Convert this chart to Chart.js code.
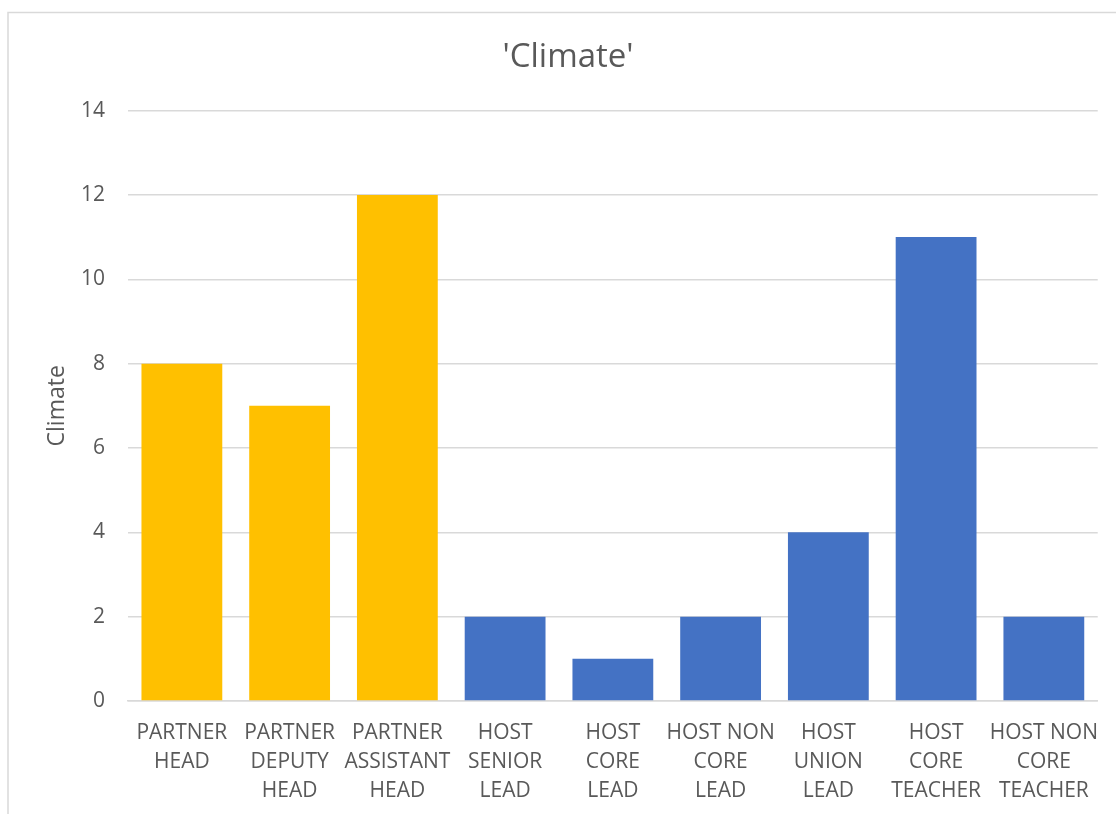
<!DOCTYPE html>
<html>
<head>
<meta charset="utf-8">
<script src="https://cdn.jsdelivr.net/npm/chart.js@4.4.1/dist/chart.umd.min.js"></script>
<style>
  html, body { margin: 0; padding: 0; background: #ffffff; }
  #wrap { position: relative; width: 1116px; height: 814px; }
</style>
</head>
<body>
<div id="wrap"><canvas id="chart" width="1116" height="814"></canvas></div>
<script>
// Roles surveyed, split over lines as they appear under each bar
const categories = [
  ['PARTNER', 'HEAD'],
  ['PARTNER', 'DEPUTY', 'HEAD'],
  ['PARTNER', 'ASSISTANT', 'HEAD'],
  ['HOST', 'SENIOR', 'LEAD'],
  ['HOST', 'CORE', 'LEAD'],
  ['HOST NON', 'CORE', 'LEAD'],
  ['HOST', 'UNION', 'LEAD'],
  ['HOST', 'CORE', 'TEACHER'],
  ['HOST NON', 'CORE', 'TEACHER']
];
// Number of 'Climate' mentions per role
const climateValues = [8, 7, 12, 2, 1, 2, 4, 11, 2];
// Partner roles in gold, host roles in blue
const barColors = ['#FFC000', '#FFC000', '#FFC000',
                   '#4472C4', '#4472C4', '#4472C4', '#4472C4', '#4472C4', '#4472C4'];
const yTicks = { min: 0, max: 14, step: 2 };

const textColor = '#595959';
const gridColor = '#d9d9d9';
const fontFamily = '"Open Sans", "Noto Sans", sans-serif';

// Thin light frame round the chart
const framePlugin = {
  id: 'frame',
  beforeDraw(chart) {
    const ctx = chart.ctx;
    ctx.save();
    ctx.strokeStyle = gridColor;
    ctx.lineWidth = 1.5;
    ctx.strokeRect(8, 12.5, 1300, 1000);
    ctx.restore();
  }
};

new Chart(document.getElementById('chart'), {
  type: 'bar',
  data: {
    labels: categories,
    datasets: [{
      label: 'Climate',
      data: climateValues,
      backgroundColor: barColors,
      borderWidth: 0,
      categoryPercentage: 1.0,
      barPercentage: 0.75
    }]
  },
  options: {
    responsive: false,
    animation: false,
    layout: { padding: { left: 38, right: 18, top: 0, bottom: 0 } },
    plugins: {
      legend: { display: false },
      tooltip: { enabled: false },
      title: {
        display: true,
        text: "'Climate'",
        color: textColor,
        font: { family: fontFamily, size: 33, weight: 'normal', lineHeight: 1.2 },
        padding: { top: 38, bottom: 33 }
      }
    },
    scales: {
      x: {
        grid: { display: false, drawTicks: false },
        border: { display: true, color: gridColor, width: 1.5 },
        ticks: {
          color: textColor,
          font: { family: fontFamily, size: 21, lineHeight: 1.4 },
          padding: 17,
          maxRotation: 0,
          autoSkip: false
        },
        afterFit(scale) { scale.height = 113; }
      },
      y: {
        min: yTicks.min,
        max: yTicks.max,
        grid: { color: gridColor, lineWidth: 1.5, drawTicks: false },
        border: { display: false },
        ticks: {
          stepSize: yTicks.step,
          color: textColor,
          font: { family: fontFamily, size: 21 },
          padding: 23
        },
        title: {
          display: true,
          text: 'Climate',
          color: textColor,
          font: { family: fontFamily, size: 23, weight: 'normal' },
          padding: { top: 6, bottom: 0 }
        },
        afterFit(scale) { scale.width = 90; }
      }
    }
  },
  plugins: [framePlugin]
});
</script>
</body>
</html>
